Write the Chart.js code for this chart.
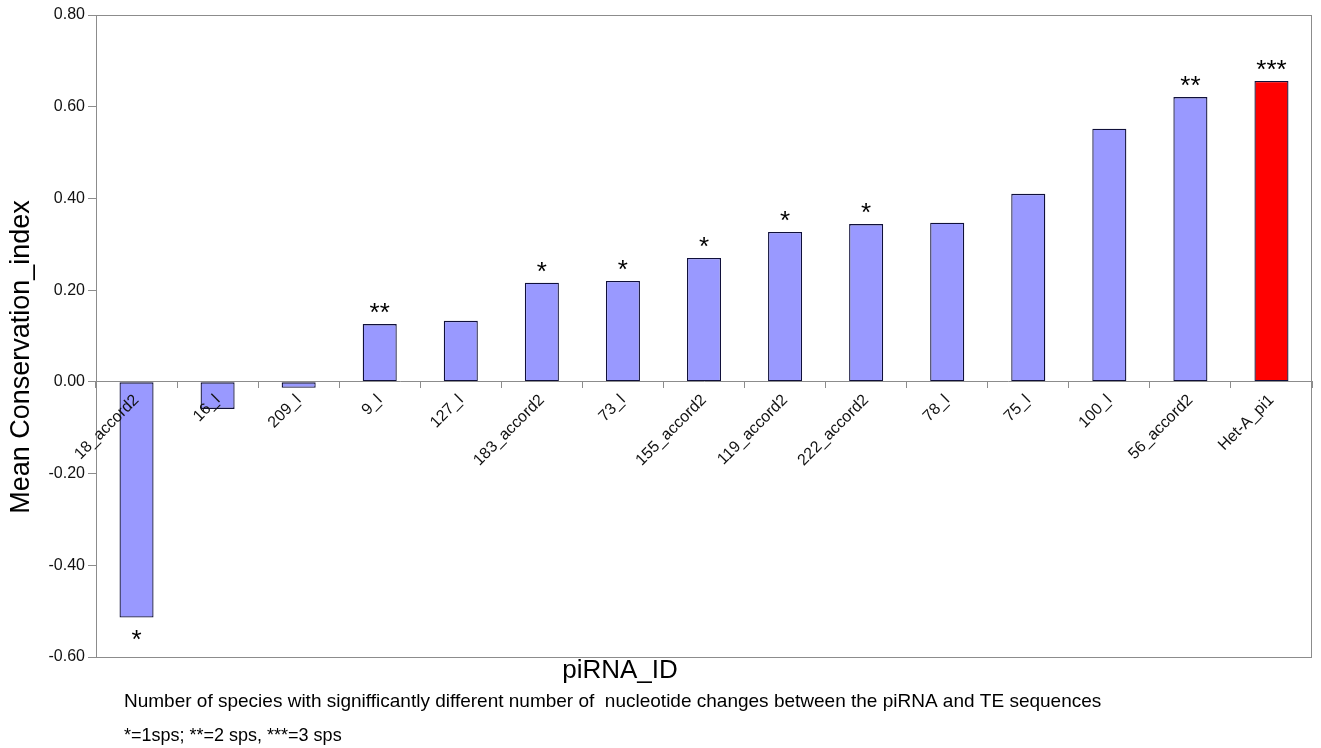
<html>
<head>
    <title>Mean Conservation index</title>
    <script src="https://cdn.jsdelivr.net/npm/chart.js"></script>
    <style>
        body { margin: 0; background: #fff; }
        #wrap { width: 1321px; height: 748px; position: relative; }
    </style>
</head>
<body>
    <div id="wrap">
        <canvas id="conservation" width="1321" height="748"></canvas>
    </div>
</body>
<script>
    const labels = ["18_accord2", "16_l", "209_l", "9_l", "127_l", "183_accord2", "73_l", "155_accord2",
        "119_accord2", "222_accord2", "78_l", "75_l", "100_l", "56_accord2", "Het-A_pi1"]
    const values = [-0.514, -0.059, -0.013, 0.126, 0.133, 0.216, 0.220, 0.270,
        0.327, 0.344, 0.347, 0.410, 0.552, 0.621, 0.656]
    const stars = ["*", "", "", "**", "", "*", "*", "*", "*", "*", "", "", "", "**", "***"]
    const colors = labels.map(l => l === "Het-A_pi1" ? "#ff0000" : "#9999ff")

    const FONT = "Arial, 'Liberation Sans', sans-serif"

    // frame around plot + stars + titles and notes
    const extras = {
        id: "extras",
        beforeDatasetsDraw(chart) {
            const { ctx, chartArea: a } = chart
            ctx.save()
            ctx.strokeStyle = "#8c8c8c"
            ctx.lineWidth = 1
            ctx.strokeRect(a.left + 0.5, a.top + 0.5, a.right - a.left - 1, a.bottom - a.top)
            ctx.restore()
        },
        afterDraw(chart) {
            const { ctx } = chart
            const meta = chart.getDatasetMeta(0)
            ctx.save()
            ctx.fillStyle = "#000"
            ctx.font = "26px " + FONT
            ctx.textAlign = "center"
            meta.data.forEach((bar, i) => {
                if (!stars[i]) return
                if (values[i] >= 0) {
                    ctx.textBaseline = "alphabetic"
                    ctx.fillText(stars[i], bar.x, bar.y - 3)
                } else {
                    ctx.textBaseline = "top"
                    ctx.fillText(stars[i], bar.x, bar.y + 10)
                }
            })
            // y title
            ctx.save()
            ctx.translate(22, 357)
            ctx.rotate(-Math.PI / 2)
            ctx.font = "27px " + FONT
            ctx.textBaseline = "middle"
            ctx.fillText("Mean Conservation_index", 0, 0)
            ctx.restore()

            ctx.font = "26px " + FONT
            ctx.textBaseline = "middle"
            ctx.fillText("piRNA_ID", 620, 671)
            ctx.textAlign = "left"
            ctx.font = "19px " + FONT
            ctx.fillText("Number of species with signifficantly different number of  nucleotide changes between the piRNA and TE sequences", 124, 702)
            ctx.font = "18px " + FONT
            ctx.fillText("*=1sps; **=2 sps, ***=3 sps", 124, 736)
            ctx.restore()
        }
    }

    new Chart(document.getElementById("conservation"), {
        type: "bar",
        data: {
            labels: labels,
            datasets: [{
                data: values,
                backgroundColor: colors,
                borderColor: "#10103a",
                borderWidth: 1.3,
                borderSkipped: false,
                barPercentage: 0.42,
                categoryPercentage: 1
            }]
        },
        options: {
            responsive: false,
            animation: false,
            layout: { padding: { top: 15, right: 9, bottom: 91, left: 0 } },
            plugins: { legend: { display: false }, tooltip: { enabled: false } },
            scales: {
                x: {
                    position: { y: 0 },
                    grid: { drawOnChartArea: false, drawTicks: true, tickLength: 6, color: "#8c8c8c", z: 1 },
                    border: { color: "#8c8c8c", z: 1 },
                    ticks: {
                        z: 1,
                        color: "#111",
                        font: { size: 16, family: FONT },
                        minRotation: 45,
                        maxRotation: 45,
                        padding: 3,
                        autoSkip: false
                    }
                },
                y: {
                    min: -0.6,
                    max: 0.8,
                    afterFit: (scale) => { scale.width = 96 },
                    grid: { drawOnChartArea: false, tickLength: 8, color: "#8c8c8c" },
                    border: { color: "#8c8c8c" },
                    ticks: {
                        stepSize: 0.2,
                        color: "#111",
                        font: { size: 16, family: FONT },
                        padding: 3,
                        callback: v => v.toFixed(2)
                    }
                }
            }
        },
        plugins: [extras]
    })
</script>
</html>
